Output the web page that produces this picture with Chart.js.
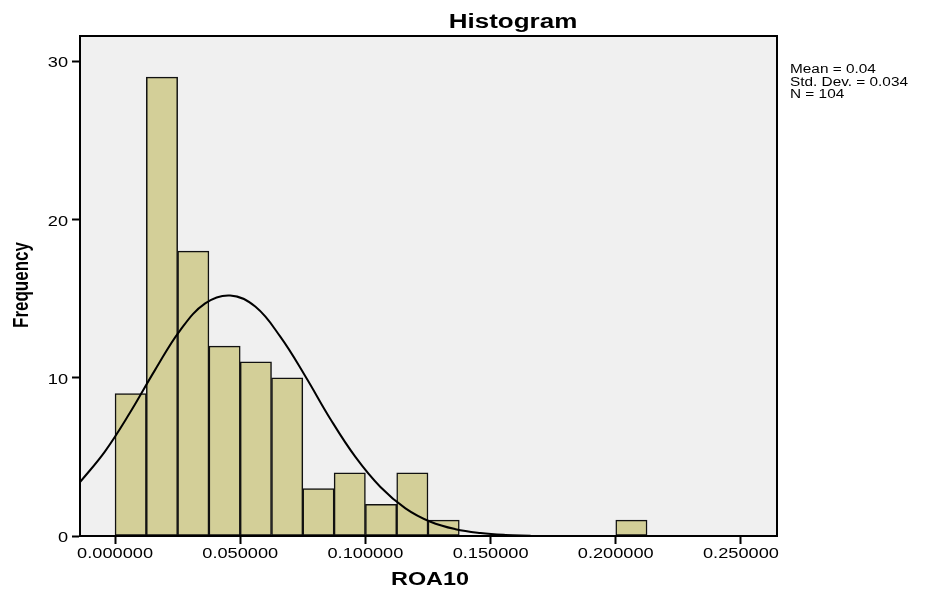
<!DOCTYPE html>
<html>
<head>
<meta charset="utf-8">
<script src="https://cdn.jsdelivr.net/npm/chart.js@4/dist/chart.umd.min.js"></script>
<style>
  html, body { margin: 0; padding: 0; background: #fff; }
  #wrap { width: 932px; height: 592px; }
</style>
</head>
<body>
<div id="wrap"><canvas id="histo"></canvas></div>
<script>
// bins of ROA10 (centre of each 0.0125 wide bin) and counts
const binMids = [0.00625, 0.01875, 0.03125, 0.04375, 0.05625, 0.06875, 0.08125, 0.09375,
                 0.10625, 0.11875, 0.13125, 0.14375, 0.15625, 0.16875, 0.18125, 0.19375, 0.20625];
const counts  = [9, 29, 18, 12, 11, 10, 3, 4, 2, 4, 1, 0, 0, 0, 0, 0, 1];

// normal curve
const curveX = [-0.014, -0.004, 0.006, 0.016, 0.026, 0.036, 0.046, 0.056, 0.066, 0.076,
                0.086, 0.096, 0.106, 0.116, 0.126, 0.136, 0.146, 0.156, 0.166];
const curveY = [3.4, 5.35, 7.8, 10.5, 13.0, 14.7, 15.2, 14.5, 12.6, 10.1,
                7.4, 5.0, 3.1, 1.75, 0.9, 0.43, 0.19, 0.07, 0.02];

const xTicks = [0, 0.05, 0.1, 0.15, 0.2, 0.25];
const yTicks = [0, 10, 20, 30];
const statLines = ["Mean = 0.04", "Std. Dev. = 0.034", "N = 104"];

const police = '"Liberation Sans", Arial, sans-serif';
// the SPSS picture is a bit stretched sideways, text follows that
const etire = 1.3;

function texte(ctx, t, x, y, font, align, sx, rot) {
    ctx.save();
    ctx.translate(x, y);
    ctx.scale(sx, 1);
    if (rot) ctx.rotate(rot);
    ctx.font = font;
    ctx.textAlign = align;
    ctx.fillText(t, 0, 0);
    ctx.restore();
}

const cadre = {
    id: 'cadre',
    beforeDraw(chart) {
        const { ctx, chartArea: a } = chart;
        ctx.save();
        ctx.fillStyle = '#f0f0f0';
        ctx.fillRect(a.left, a.top, a.right - a.left, a.bottom - a.top);
        ctx.restore();
    },
    afterDraw(chart) {
        const { ctx, chartArea: a } = chart;
        const sx = chart.scales.x, sy = chart.scales.y;
        ctx.save();
        ctx.strokeStyle = '#000';
        ctx.lineWidth = 2;
        ctx.strokeRect(a.left, a.top, a.right - a.left, a.bottom - a.top);

        ctx.fillStyle = '#000';
        ctx.textBaseline = 'alphabetic';
        texte(ctx, 'Histogram', 513, 28, 'bold 20px ' + police, 'center', etire);

        // tick labels, placed by the scales
        const fTick = '14px ' + police;
        sx.ticks.forEach(t => {
            texte(ctx, t.value.toFixed(6), sx.getPixelForValue(t.value), 558, fTick, 'center', etire);
        });
        sy.ticks.forEach(t => {
            texte(ctx, String(t.value), 68, sy.getPixelForValue(t.value) + 6, fTick, 'right', etire);
        });

        texte(ctx, 'ROA10', 430, 585, 'bold 18px ' + police, 'center', etire);
        texte(ctx, 'Frequency', 28, 285, 'bold 17px ' + police, 'center', etire, -Math.PI / 2);

        statLines.forEach((t, i) => texte(ctx, t, 790, 73 + i * 12.5, '12px ' + police, 'left', 1.28));
        ctx.restore();
    }
};

new Chart(document.getElementById('histo'), {
    data: {
        datasets: [{
            type: 'line',
            order: 1,
            data: curveX.map((x, i) => ({ x: x, y: curveY[i] })),
            borderColor: '#000',
            borderWidth: 2,
            pointRadius: 0,
            tension: 0.4,
            fill: false,
        }, {
            type: 'bar',
            order: 2,
            data: binMids.map((x, i) => ({ x: x, y: counts[i] })),
            backgroundColor: '#d3cf98',
            borderColor: '#111',
            borderWidth: 1.5,
            borderSkipped: false,
            barPercentage: 1,
            categoryPercentage: 1,
        }],
    },
    options: {
        responsive: true,
        maintainAspectRatio: false,
        animation: false,
        layout: { padding: { left: 0, top: 36, right: 155, bottom: 0 } },
        plugins: {
            legend: { display: false },
            tooltip: { enabled: false },
            title: { display: false },
        },
        scales: {
            x: {
                type: 'linear',
                offset: false,
                min: -0.014,
                max: 0.2644,
                afterBuildTicks: (s) => { s.ticks = xTicks.map(v => ({ value: v })); },
                afterFit: (s) => { s.height = 56; },
                grid: { offset: false, drawOnChartArea: false, tickLength: 8, tickColor: '#000', tickWidth: 2 },
                border: { color: '#000', width: 2 },
                ticks: { display: false },
                title: { display: false },
            },
            y: {
                min: 0,
                max: 31.6,
                afterBuildTicks: (s) => { s.ticks = yTicks.map(v => ({ value: v })); },
                afterFit: (s) => { s.width = 80; },
                grid: { drawOnChartArea: false, tickLength: 8, tickColor: '#000', tickWidth: 2 },
                border: { color: '#000', width: 2 },
                ticks: { display: false },
                title: { display: false },
            },
        },
    },
    plugins: [cadre],
});
</script>
</body>
</html>
